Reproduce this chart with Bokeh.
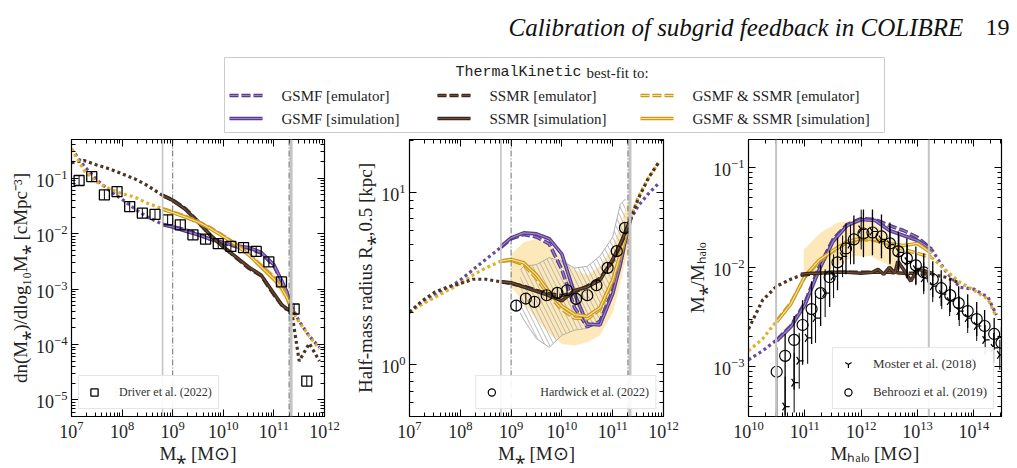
import numpy as np
from bokeh.plotting import figure
from bokeh.layouts import column, row
from bokeh.models import LogAxis, LogTicker, FixedTicker, Range1d, Legend, LegendItem, Span
from bokeh.core.properties import value
from bokeh.embed import file_html
from bokeh.resources import INLINE

SERIF = "Liberation Serif"
MONO = "Liberation Mono"

# ====================== DATA (log10 values) ======================
# ---- Panel 1: galaxy stellar mass function ----
driver_logM = [7.15, 7.40, 7.65, 7.90, 8.15, 8.40, 8.65, 8.90, 9.15, 9.40, 9.65, 9.90,
               10.15, 10.40, 10.65, 10.90, 11.15, 11.40, 11.65]
driver_logphi = [-1.04, -0.97, -1.30, -1.24, -1.51, -1.63, -1.65, -1.75, -1.84, -2.02, -2.10,
                 -2.18, -2.23, -2.25, -2.32, -2.51, -2.87, -3.36, -4.66]

logMstar_grid = [7.0, 7.25, 7.5, 7.75, 8.0, 8.25, 8.5, 8.8, 9.0, 9.25, 9.5, 9.75, 10.0, 10.25,
                 10.5, 10.75, 11.0, 11.15, 11.25, 11.35, 11.5, 11.7, 11.9]
logMstar_sim = [8.8, 9.0, 9.25, 9.5, 9.75, 10.0, 10.25, 10.5, 10.75, 11.0, 11.15, 11.25, 11.35]

gsmf_emu_fitGSMF = [-0.47, -0.78, -1.03, -1.22, -1.38, -1.55, -1.70, -1.83, -1.87, -1.93, -2.01, -2.10,
                    -2.17, -2.23, -2.26, -2.35, -2.58, -2.86, -3.05, -3.32, -3.58, -3.85, -4.05]
gsmf_sim_fitGSMF = [-1.84, -1.88, -1.95, -2.02, -2.10, -2.16, -2.22, -2.25, -2.34, -2.56, -2.84, -3.04, -3.34]
gsmf_emu_fitSSMR = [-0.72, -0.68, -0.76, -0.83, -0.92, -1.01, -1.13, -1.31, -1.39, -1.55, -1.78, -2.04,
                    -2.23, -2.43, -2.62, -2.76, -3.10, -3.28, -3.36, -3.40, -4.30, -3.98, -4.30]
gsmf_sim_fitSSMR = [-1.31, -1.40, -1.56, -1.79, -2.03, -2.24, -2.42, -2.60, -2.75, -3.08, -3.28, -3.35, -3.38]
gsmf_emu_fitBoth = [-0.47, -0.86, -1.07, -1.19, -1.28, -1.34, -1.45, -1.55, -1.61, -1.69, -1.78, -1.90,
                    -2.04, -2.19, -2.37, -2.58, -2.79, -2.95, -3.12, -3.36, -3.60, -3.85, -4.08]
gsmf_sim_fitBoth = [-1.56, -1.62, -1.70, -1.79, -1.91, -2.05, -2.20, -2.38, -2.60, -2.82, -2.98, -3.14, -3.36]
gsmf_band_logM = [10.0, 10.25, 10.5, 10.75, 11.0, 11.25, 11.35, 11.42]
gsmf_band_hi = [-2.02, -2.16, -2.33, -2.52, -2.72, -3.04, -3.30, -3.40]
gsmf_band_lo = [-2.07, -2.23, -2.42, -2.66, -2.88, -3.22, -3.50, -3.62]

# ---- Panel 2: stellar size - mass relation ----
hard_logM = [9.10, 9.29, 9.46, 9.70, 9.91, 10.10, 10.28, 10.50, 10.68, 10.90, 11.08, 11.24]
hard_logR = [0.342, 0.383, 0.364, 0.402, 0.416, 0.431, 0.381, 0.402, 0.460, 0.561, 0.658, 0.793]

ssmr_emu_fitGSMF = [0.304, 0.36, 0.40, 0.44, 0.49, 0.55, 0.61, 0.68, 0.73, 0.755, 0.74, 0.70, 0.55,
                    0.33, 0.22, 0.25, 0.43, 0.60, 0.73, 0.84, 0.92, 0.99, 1.05]
ssmr_sim_fitGSMF = [0.685, 0.735, 0.764, 0.758, 0.73, 0.64, 0.41, 0.235, 0.23, 0.41, 0.58, 0.72, 0.84]
ssmr_emu_fitSSMR = [0.304, 0.37, 0.42, 0.45, 0.47, 0.495, 0.495, 0.48, 0.47, 0.455, 0.43, 0.41, 0.40,
                    0.42, 0.455, 0.50, 0.60, 0.69, 0.76, 0.84, 0.96, 1.08, 1.17]
ssmr_sim_fitSSMR = [0.48, 0.475, 0.45, 0.425, 0.40, 0.37, 0.43, 0.45, 0.49, 0.61, 0.70, 0.77, 0.84]
ssmr_emu_fitBoth = [0.304, 0.35, 0.39, 0.43, 0.47, 0.52, 0.56, 0.60, 0.605, 0.58, 0.50, 0.40, 0.32,
                    0.27, 0.265, 0.32, 0.48, 0.63, 0.74, 0.85, 0.97, 1.08, 1.17]
ssmr_sim_fitBoth = [0.60, 0.61, 0.59, 0.52, 0.42, 0.34, 0.29, 0.28, 0.33, 0.49, 0.64, 0.74, 0.85]
ssmr_band_logM = [9.0, 9.25, 9.5, 9.75, 10.0, 10.25, 10.5, 10.75, 11.0, 11.15, 11.25, 11.35]
ssmr_band_hi = [0.64, 0.71, 0.73, 0.70, 0.62, 0.55, 0.52, 0.57, 0.68, 0.80, 0.90, 0.98]
ssmr_band_lo = [0.45, 0.36, 0.26, 0.18, 0.12, 0.11, 0.13, 0.17, 0.30, 0.47, 0.60, 0.70]
hatch_logM = [9.18, 9.25, 9.5, 9.75, 10.0, 10.25, 10.5, 10.75, 11.0, 11.15, 11.25]
hatch_hi = [0.55, 0.57, 0.58, 0.62, 0.60, 0.56, 0.57, 0.63, 0.74, 0.93, 0.96]
hatch_lo = [0.30, 0.26, 0.15, 0.10, 0.17, 0.20, 0.21, 0.26, 0.42, 0.55, 0.68]

# ---- Panel 3: stellar-to-halo mass ratio ----
behroozi_logMh = [10.50, 10.65, 10.81, 10.96, 11.12, 11.28, 11.44, 11.58, 11.73, 11.87, 12.04, 12.20,
                  12.36, 12.51, 12.66, 12.81, 12.97, 13.11, 13.27, 13.42, 13.58, 13.73, 13.89, 14.05,
                  14.19, 14.36, 14.49]
behroozi_logratio = [-3.05, -2.89, -2.73, -2.58, -2.42, -2.26, -2.10, -1.95, -1.81, -1.72, -1.66, -1.65,
                     -1.69, -1.76, -1.84, -1.91, -1.98, -2.05, -2.12, -2.21, -2.28, -2.36, -2.44, -2.52,
                     -2.59, -2.67, -2.76]
behroozi_err_hi = [0.25, 0.22, 0.24, 0.25, 0.28, 0.28, 0.27, 0.25, 0.25, 0.24, 0.24, 0.23, 0.22, 0.21,
                   0.20, 0.20, 0.19, 0.19, 0.18, 0.18, 0.17, 0.17, 0.17, 0.17, 0.16, 0.16, 0.16]
behroozi_err_lo = [0.60, 0.60, 0.50, 0.40, 0.35, 0.33, 0.30, 0.28, 0.26, 0.25, 0.24, 0.23, 0.22, 0.21,
                   0.20, 0.20, 0.19, 0.19, 0.18, 0.18, 0.17, 0.17, 0.17, 0.17, 0.16, 0.16, 0.16]
moster_logMh = [10.65, 10.81, 10.90, 11.05, 11.19, 11.36, 11.51, 11.67, 11.81, 12.00, 12.20, 12.36,
                12.51, 12.67, 12.82, 12.97, 13.11, 13.27, 13.43, 13.57, 13.74, 13.89, 14.05, 14.20,
                14.35, 14.46]
moster_logratio = [-3.40, -3.16, -2.94, -2.71, -2.51, -2.26, -2.09, -1.89, -1.77, -1.62, -1.64, -1.72,
                   -1.77, -1.85, -1.94, -2.02, -2.11, -2.19, -2.27, -2.34, -2.44, -2.51, -2.59, -2.73,
                   -2.81, -2.88]
moster_err = [0.30, 0.30, 0.28, 0.26, 0.25, 0.24, 0.22, 0.21, 0.20, 0.20, 0.19, 0.18, 0.18, 0.17,
              0.17, 0.16, 0.16, 0.16, 0.15, 0.15, 0.15, 0.15, 0.15, 0.15, 0.15, 0.15]

logMhalo_grid = [10.0, 10.25, 10.5, 10.75, 11.0, 11.25, 11.5, 11.75, 12.0, 12.25, 12.5, 12.75, 13.0,
                 13.25, 13.5, 13.75, 14.0, 14.25, 14.4]
logMhalo_sim = [10.5, 10.75, 11.0, 11.25, 11.5, 11.75, 12.0, 12.25, 12.5, 12.75, 13.0, 13.25]
smhm_emu_fitGSMF = [-2.93, -2.84, -2.73, -2.59, -2.36, -2.00, -1.72, -1.57, -1.51, -1.52, -1.58, -1.63,
                    -1.70, -1.82, -2.04, -2.20, -2.22, -2.30, -2.48]
smhm_sim_fitGSMF = [-2.74, -2.60, -2.38, -2.03, -1.74, -1.58, -1.52, -1.53, -1.63, -1.68, -1.73, -1.82]
smhm_emu_fitBoth = [-2.84, -2.72, -2.54, -2.36, -2.10, -1.94, -1.84, -1.75, -1.72, -1.73, -1.77, -1.82,
                    -1.86, -1.90, -2.03, -2.15, -2.23, -2.32, -2.50]
smhm_sim_fitBoth = [-2.55, -2.37, -2.09, -1.93, -1.83, -1.74, -1.71, -1.72, -1.76, -1.78, -1.76, -1.86]
logMhalo_grid_ssmr = [10.0, 10.25, 10.5, 10.75, 10.93, 11.25, 11.5, 11.75, 12.0, 12.25, 12.5, 12.75,
                      13.0, 13.25, 13.5, 13.75]
smhm_emu_fitSSMR = [-2.62, -2.33, -2.19, -2.12, -2.08, -2.06, -2.05, -2.05, -2.05, -2.05, -2.05, -2.06,
                    -2.06, -2.07, -2.10, -2.16]
logMhalo_sim_ssmr = [10.93, 11.1, 11.25, 11.5, 11.75, 12.0, 12.2, 12.3, 12.4, 12.5, 12.6, 12.65, 12.75,
                     12.88, 13.0, 13.15, 13.25]
smhm_sim_fitSSMR = [-2.07, -2.06, -2.06, -2.05, -2.05, -2.06, -2.05, -2.02, -2.07, -2.00, -2.06, -1.94,
                    -2.02, -2.14, -2.02, -2.04, -2.06]
smhm_band_logMh = [10.98, 11.28, 11.58, 11.87, 12.17, 12.46, 12.70]
smhm_band_hi = [-1.82, -1.65, -1.55, -1.53, -1.53, -1.65, -1.82]
smhm_band_lo = [-2.10, -2.07, -1.98, -1.89, -1.89, -1.97, -2.10]

# calibration ranges / reference lines (log10)
cal_star = (8.8, 11.35)
cal_halo = (10.5, 13.25)
cal_halo_ssmr = (10.93, 13.25)
vline_star_gray = [8.8, 11.34]
vline_star_dashdot = [9.0, 11.3]
vline_halo_gray = [10.49, 13.2]
radius_major_ticks = [1, 10]
radius_minor_ticks = [0.5, 0.6, 0.7, 0.8, 0.9, 2, 3, 4, 5, 6, 7, 8, 9, 20]

# ====================== STYLE ======================
COL = {
    "gsmf": dict(out="#573b8c", inn="#9c84c8", dot="#684c9c"),
    "ssmr": dict(out="#3d291c", inn="#6a4e3e", dot="#4a3426"),
    "both": dict(out="#c99a1c", inn="#f9df8e", dot="#e0af2c"),
}
BAND = "#fde6b3"
TICKFONT = "18px"


def L(a):
    return 10 ** np.asarray(a, dtype=float)


def dline(p, x, y, c, dash="solid"):
    r1 = p.line(x, y, line_color=c["out"], line_width=3.6, line_dash=dash)
    r2 = p.line(x, y, line_color=c["inn"], line_width=1.2, line_dash=dash)
    return [r1, r2]


def emulator(p, lx, ly, rng, c):
    lx = np.asarray(lx, float)
    ly = np.asarray(ly, float)
    eps = 1e-9
    left = lx <= rng[0] + eps
    mid = (lx >= rng[0] - eps) & (lx <= rng[1] + eps)
    right = lx >= rng[1] - eps
    for m in (left, right):
        if m.sum() > 1:
            p.line(L(lx[m]), L(ly[m]), line_color=c["dot"], line_width=3.2, line_dash="3 3")
    dline(p, L(lx[mid]), L(ly[mid]), c, dash="9 3")


def make_ticker(fixed):
    if fixed is None:
        return LogTicker(num_minor_ticks=10)
    return FixedTicker(ticks=fixed[0], minor_ticks=fixed[1])


def make_fig(width, left, right, xr, yr, xlabel, ylabel, yfixed=None):
    p = figure(width=width, height=328, x_axis_type="log", y_axis_type="log",
               x_range=Range1d(*xr), y_range=Range1d(*yr),
               output_backend="svg", toolbar_location=None,
               min_border_left=left, min_border_right=right, min_border_top=0,
               min_border_bottom=51, background_fill_color="white",
               border_fill_color="white", outline_line_color="black", outline_line_width=1.2)
    p.xgrid.grid_line_color = None
    p.ygrid.grid_line_color = None
    xa, ya = p.below[0], p.left[0]
    xa.axis_label = xlabel
    ya.axis_label = ylabel
    xa.ticker = make_ticker(None)
    ya.ticker = make_ticker(yfixed)
    for ax in (xa, ya):
        ax.major_tick_in = 7
        ax.major_tick_out = 0
        ax.minor_tick_in = 4
        ax.minor_tick_out = 0
        ax.major_tick_line_color = "black"
        ax.minor_tick_line_color = "black"
        ax.axis_line_color = "black"
        ax.major_label_text_font = SERIF
        ax.major_label_text_font_size = TICKFONT
        ax.major_label_text_color = "#222222"
        ax.axis_label_text_font = SERIF
        ax.axis_label_text_font_size = "19px"
        ax.axis_label_text_font_style = "normal"
        ax.axis_label_text_color = "#222222"
        ax.major_label_standoff = 4
        ax.axis_label_standoff = 2
    for side, fixed in (("above", None), ("right", yfixed)):
        ax = LogAxis(ticker=make_ticker(fixed), major_tick_in=7, major_tick_out=0,
                     minor_tick_in=4, minor_tick_out=0, major_label_text_font_size="1px",
                     major_label_text_alpha=0, major_label_standoff=0, axis_line_color="black")
        p.add_layout(ax, side)
    return p


def vlines(p, gray, dashdot=None, gray_widths=None):
    for i, g in enumerate(gray):
        w = gray_widths[i] if gray_widths else 1.8
        p.add_layout(Span(location=10 ** g, dimension="height", line_color="#c4c4c4", line_width=w))
    if dashdot:
        for d in dashdot:
            p.add_layout(Span(location=10 ** d, dimension="height", line_color="#333333",
                              line_width=0.7, line_dash="6 2 1 2"))


def style_legend(leg):
    leg.label_text_font = SERIF
    leg.label_text_font_size = "12px"
    leg.label_text_color = "#333333"
    leg.border_line_color = "#cccccc"
    leg.border_line_width = 1
    leg.background_fill_alpha = 0.9
    leg.padding = 6
    leg.spacing = 4
    leg.margin = 7
    leg.glyph_width = 18
    leg.label_standoff = 16


# ====================== PANEL 1 ======================
p1 = make_fig(340, 71, 16, (1e7, 1e12), (10 ** -5.3, 10 ** -0.3),
              "M⁎ [M⊙]", "dn(M⁎)/dlog₁₀M⁎ [cMpc⁻³]")
vlines(p1, vline_star_gray, vline_star_dashdot, gray_widths=[1.6, 3.0])
p1.varea(x=L(gsmf_band_logM), y1=L(gsmf_band_lo), y2=L(gsmf_band_hi), fill_color=BAND, fill_alpha=0.9)
for key, emu, sim in (("gsmf", gsmf_emu_fitGSMF, gsmf_sim_fitGSMF),
                      ("ssmr", gsmf_emu_fitSSMR, gsmf_sim_fitSSMR),
                      ("both", gsmf_emu_fitBoth, gsmf_sim_fitBoth)):
    emulator(p1, logMstar_grid, emu, cal_star, COL[key])
    dline(p1, L(logMstar_sim), L(sim), COL[key])
nd = len(driver_logM)
r_dsq = p1.scatter(L(driver_logM), L(driver_logphi), marker="square", size=10, fill_color=None,
                   line_color="black", line_width=1.3)
p1.scatter(L(driver_logM), L(driver_logphi), marker="dash", angle=[np.pi / 2] * nd,
           angle_units="rad", size=10, line_color="black", line_width=1.0)
leg1 = Legend(items=[LegendItem(label="Driver et al. (2022)", renderers=[r_dsq])],
              location="bottom_left")
style_legend(leg1)
p1.add_layout(leg1)

# ====================== PANEL 2 ======================
p2 = make_fig(340, 69, 17, (1e7, 1e12), (0.5, 20.2), "M⁎ [M⊙]", "Half-mass radius R⁎,0.5 [kpc]",
              yfixed=(radius_major_ticks, radius_minor_ticks))
vlines(p2, vline_star_gray, vline_star_dashdot, gray_widths=[1.6, 3.0])
p2.varea(x=L(ssmr_band_logM), y1=L(ssmr_band_lo), y2=L(ssmr_band_hi), fill_color=BAND, fill_alpha=0.9)
p2.varea(x=L(hatch_logM), y1=L(hatch_lo), y2=L(hatch_hi), fill_alpha=0, hatch_pattern="\\",
         hatch_color="#a8a8a8", hatch_scale=9, hatch_weight=0.8)
p2.line(L(hatch_logM), L(hatch_hi), line_color="#b0b0b0", line_width=1)
p2.line(L(hatch_logM), L(hatch_lo), line_color="#b0b0b0", line_width=1)
for key, emu, sim in (("gsmf", ssmr_emu_fitGSMF, ssmr_sim_fitGSMF),
                      ("both", ssmr_emu_fitBoth, ssmr_sim_fitBoth),
                      ("ssmr", ssmr_emu_fitSSMR, ssmr_sim_fitSSMR)):
    emulator(p2, logMstar_grid, emu, cal_star, COL[key])
    dline(p2, L(logMstar_sim), L(sim), COL[key])
nh = len(hard_logM)
r_hc = p2.scatter(L(hard_logM), L(hard_logR), marker="circle", size=11, fill_color=None,
                  line_color="black", line_width=1.2)
p2.scatter(L(hard_logM), L(hard_logR), marker="dash", angle=[np.pi / 2] * nh,
           angle_units="rad", size=11, line_color="black", line_width=1.0)
leg2 = Legend(items=[LegendItem(label="Hardwick et al. (2022)", renderers=[r_hc])],
              location="bottom_right")
style_legend(leg2)
leg2.label_standoff = 40
p2.add_layout(leg2)

# ====================== PANEL 3 ======================
p3 = make_fig(337, 68, 16, (1e10, 10 ** 14.49), (10 ** -3.5, 10 ** -0.715),
              "Mₕₐₗₒ [M⊙]", "M⁎/Mₕₐₗₒ")
vlines(p3, vline_halo_gray, None, gray_widths=[2.0, 2.0])
p3.varea(x=L(smhm_band_logMh), y1=L(smhm_band_lo), y2=L(smhm_band_hi), fill_color=BAND, fill_alpha=0.9)
emulator(p3, logMhalo_grid, smhm_emu_fitGSMF, cal_halo, COL["gsmf"])
dline(p3, L(logMhalo_sim), L(smhm_sim_fitGSMF), COL["gsmf"])
emulator(p3, logMhalo_grid, smhm_emu_fitBoth, cal_halo, COL["both"])
dline(p3, L(logMhalo_sim), L(smhm_sim_fitBoth), COL["both"])
emulator(p3, logMhalo_grid_ssmr, smhm_emu_fitSSMR, cal_halo_ssmr, COL["ssmr"])
dline(p3, L(logMhalo_sim_ssmr), L(smhm_sim_fitSSMR), COL["ssmr"])

bx = L(behroozi_logMh)
by = np.asarray(behroozi_logratio)
p3.segment(x0=bx, y0=L(by - np.asarray(behroozi_err_lo)), x1=bx,
           y1=L(by + np.asarray(behroozi_err_hi)), line_color="black", line_width=1.3)
mx = L(moster_logMh)
my = np.asarray(moster_logratio)
p3.segment(x0=mx, y0=L(my - np.asarray(moster_err)), x1=mx, y1=L(my + np.asarray(moster_err)),
           line_color="black", line_width=1.0)
nm = len(moster_logMh)
r_mm = p3.scatter(mx, L(my), marker="y", angle=[np.pi / 2] * nm, angle_units="rad", size=9,
                  line_color="black", line_width=1.2)
r_bc = p3.scatter(bx, L(by), marker="circle", size=11, fill_color=None, line_color="black",
                  line_width=1.2)
leg3 = Legend(items=[LegendItem(label="Moster et al. (2018)", renderers=[r_mm]),
                     LegendItem(label="Behroozi et al. (2019)", renderers=[r_bc])],
              location="bottom_right")
style_legend(leg3)
leg3.label_text_font_size = "13px"
leg3.spacing = 8
p3.add_layout(leg3)

# ====================== HEADER (title + shared legend) ======================
h = figure(width=1017, height=139, x_range=Range1d(0, 1017), y_range=Range1d(139, 0),
           output_backend="svg", toolbar_location=None, min_border=0,
           outline_line_color=None, background_fill_color="white", border_fill_color="white")
h.axis.visible = False
h.grid.visible = False
h.text(x=[508], y=[27], text=["Calibration of subgrid feedback in COLIBRE"],
       text_font=value(SERIF), text_font_style="italic", text_font_size="25px",
       text_color="#111111", text_baseline="alphabetic")
h.text(x=[985], y=[27], text=["19"], text_font=value(SERIF), text_font_size="24px",
       text_color="#111111", text_baseline="alphabetic")
h.quad(left=[224], right=[884], top=[57], bottom=[132], fill_color="white",
       line_color="#cccccc", line_width=1)
h.text(x=[455], y=[72], text=["ThermalKinetic"], text_font=value(MONO), text_font_size="15px",
       text_color="#222222", text_baseline="middle")
h.text(x=[586], y=[72], text=["best-fit to:"], text_font=value(SERIF), text_font_size="15px",
       text_color="#222222", text_baseline="middle")

legend_entries = [
    ("gsmf", "GSMF [emulator]", "9 3", 229, 95),
    ("gsmf", "GSMF [simulation]", "solid", 229, 118),
    ("ssmr", "SSMR [emulator]", "9 3", 437, 95),
    ("ssmr", "SSMR [simulation]", "solid", 437, 118),
    ("both", "GSMF & SSMR [emulator]", "9 3", 640, 95),
    ("both", "GSMF & SSMR [simulation]", "solid", 640, 118),
]
for key, lab, dash, x0, y0 in legend_entries:
    dline(h, [x0, x0 + 33], [y0, y0], COL[key], dash=dash)
    h.text(x=[x0 + 52], y=[y0], text=[lab], text_font=value(SERIF), text_font_size="15px",
           text_color="#222222", text_baseline="middle")

layout = column(h, row(p1, p2, p3))
open("out.html", "w").write(file_html(layout, INLINE))
